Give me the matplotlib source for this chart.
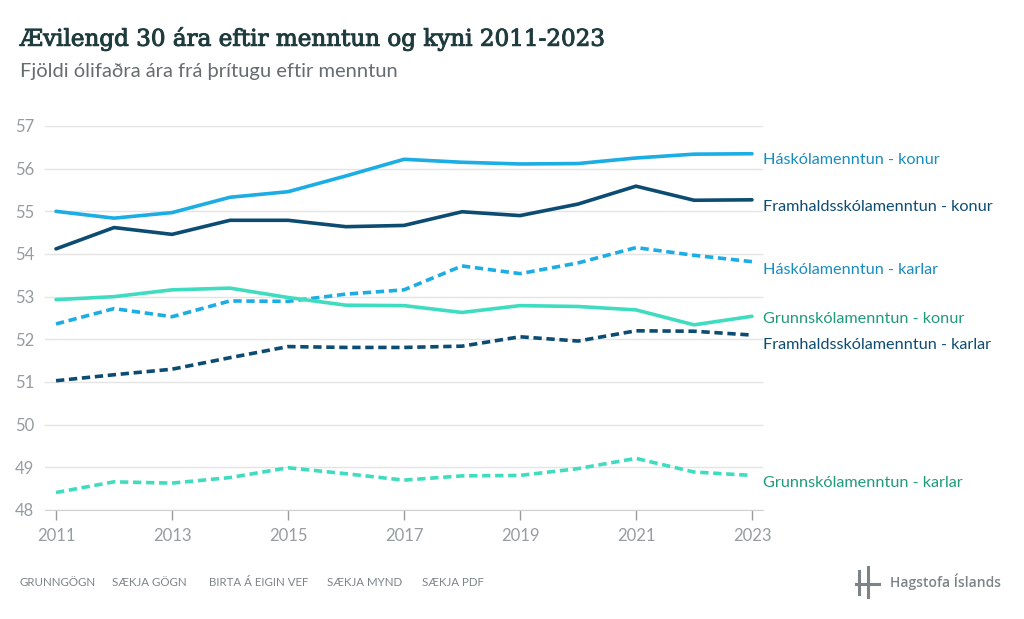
import matplotlib.pyplot as plt
import matplotlib.patheffects as pe
from matplotlib.lines import Line2D

years = list(range(2011, 2024))

hask_konur = [55.00, 54.84, 54.97, 55.33, 55.46, 55.83, 56.22, 56.15, 56.11, 56.12, 56.25, 56.34, 56.35]
framh_konur = [54.12, 54.62, 54.46, 54.79, 54.79, 54.64, 54.67, 54.99, 54.90, 55.17, 55.59, 55.26, 55.27]
hask_karlar = [52.36, 52.72, 52.53, 52.90, 52.89, 53.06, 53.16, 53.72, 53.54, 53.79, 54.15, 53.97, 53.82]
grunn_konur = [52.93, 53.00, 53.16, 53.20, 52.98, 52.80, 52.79, 52.63, 52.79, 52.77, 52.69, 52.34, 52.54]
framh_karlar = [51.03, 51.17, 51.30, 51.57, 51.83, 51.81, 51.81, 51.84, 52.06, 51.96, 52.20, 52.19, 52.10]
grunn_karlar = [48.41, 48.66, 48.63, 48.76, 48.99, 48.85, 48.70, 48.80, 48.81, 48.97, 49.21, 48.89, 48.81]

labels = ["Háskólamenntun - konur", "Framhaldsskólamenntun - konur",
          "Háskólamenntun - karlar", "Grunnskólamenntun - konur",
          "Framhaldsskólamenntun - karlar", "Grunnskólamenntun - karlar"]
series = [hask_konur, framh_konur, hask_karlar, grunn_konur, framh_karlar, grunn_karlar]

blue = "#1badE3"
navy = "#0d4c72"
teal = "#3fdcc0"
line_col = [blue, navy, blue, teal, navy, teal]
text_col = ["#1a8cc0", navy, "#1a8cc0", "#1f9b7c", navy, "#1f9b7c"]
styles = ["-", "-", "--", "-", "--", "--"]
label_nudge = [-0.15, -0.17, -0.19, -0.06, -0.24, -0.17]

fig = plt.figure(figsize=(10.24, 6.19), dpi=100)
ax = fig.add_axes([45/1024, 1 - 510/619, 718/1024, 384/619])

for vals, c, ls in zip(series, line_col, styles):
    kw = dict(dashes=(2.3, 1.3)) if ls == "--" else {}
    ax.plot(years, vals, color=c, linewidth=2.6, linestyle=ls,
            solid_capstyle="round", dash_capstyle="butt", zorder=3, **kw)

for lab, vals, c, dy in zip(labels, series, text_col, label_nudge):
    ax.text(2023.19, vals[-1] + dy, lab, color=c, fontsize=11.7,
            family="Lato", va="center", ha="left", clip_on=False)

ax.set_xlim(2010.81, 2023.19)
ax.set_ylim(48, 57)
ax.set_yticks(range(48, 58))
ax.set_xticks(range(2011, 2024, 2))
ax.grid(axis="y", color="#e4e4e4", linewidth=1)
ax.set_axisbelow(True)
for s in ["top", "right", "left"]:
    ax.spines[s].set_visible(False)
ax.spines["bottom"].set_color("#d0d0d0")
ax.tick_params(axis="y", length=0, pad=8, labelsize=12, labelcolor="#979ca0")
ax.tick_params(axis="x", length=7, width=1, color="#9a9a9a", pad=6,
               labelsize=12, labelcolor="#979ca0")
for t in ax.get_xticklabels() + ax.get_yticklabels():
    t.set_family("Lato")

fig.text(20/1024, 1 - 39/619, "Ævilengd 30 ára eftir menntun og kyni 2011-2023",
         family="DejaVu Serif", fontsize=16.6, color="#1f3b3e", va="center",
         path_effects=[pe.withStroke(linewidth=0.7, foreground="#1f3b3e")])
fig.text(20/1024, 1 - 72/619, "Fjöldi ólifaðra ára frá þrítugu eftir menntun",
         family="Lato", fontsize=14.5, color="#676c70", va="center")

footer = ["GRUNNGÖGN", "SÆKJA GÖGN", "BIRTA Á EIGIN VEF", "SÆKJA MYND", "SÆKJA PDF"]
footer_x = [20, 112, 209, 327, 422]
for txt, x in zip(footer, footer_x):
    fig.text(x/1024, 1 - 583/619, txt, family="Lato", fontsize=8.3,
             color="#7d8488", va="center")

# logo
gray = "#7d8488"
def px(x, y):
    return x/1024, 1 - y/619
for (x0, y0), (x1, y1) in [((859, 571), (859, 581)), ((859, 586), (859, 594)),
                           ((868, 567), (868, 597)), ((856, 583.5), (879, 583.5))]:
    a, b = px(x0, y0)
    c, d = px(x1, y1)
    fig.add_artist(Line2D([a, c], [b, d], color=gray, linewidth=2.2))
fig.text(890/1024, 1 - 582/619, "Hagstofa Íslands", family="Open Sans",
         fontsize=10, fontweight="semibold", color=gray, va="center")

fig.savefig("out.png", dpi=100, facecolor="white")
